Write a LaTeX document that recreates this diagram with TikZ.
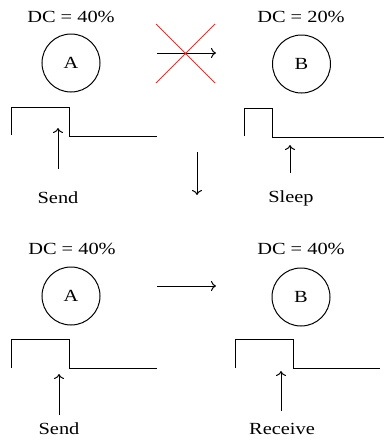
\documentclass[tikz,border=0pt]{standalone}
\usepackage{fontspec}
\setmainfont{Liberation Serif}[FakeStretch=1.2]
\usetikzlibrary{arrows.meta}
\begin{document}
\begin{tikzpicture}[x=1pt,y=-1pt,
  lw/.style={line width=1pt},
  txt/.style={font=\fontsize{17}{20}\selectfont, inner sep=0pt},
  circ/.style={circle, draw, lw, minimum size=58pt, inner sep=0pt, font=\fontsize{17}{20}\selectfont},
  arr/.style={lw, -{To[length=5pt,width=10pt]}},
  pulse/.style={lw}
]
\useasboundingbox (0,0) rectangle (384,442);
% top left
\node[txt] (dcA1) at (71,17) {DC = 40\%};
\node[circ] (A1) at (71,63) {A};
\coordinate (pA1s) at (11,135);
\coordinate (pA1e) at (157,136);
\draw[pulse] (pA1s) -- (11,107) -- (69,107) -- (69,136) -- (pA1e);
\node[txt] (send1) at (58,198) {Send};
\coordinate (aA1) at (58,128);
\draw[arr] (58,169) -- (aA1);
% top right
\node[txt] (dcB1) at (301,17) {DC = 20\%};
\node[circ] (B1) at (301.5,64) {B};
\coordinate (pB1s) at (244,136);
\coordinate (pB1e) at (384,137);
\draw[pulse] (pB1s) -- (244,108) -- (272,108) -- (272,137) -- (pB1e);
\node[txt] (sleep) at (291,198) {Sleep};
\coordinate (aB1) at (290,145);
\draw[arr] (290,173) -- (aB1);
% blocked arrow
\coordinate (m1s) at (157,53);
\coordinate (m1e) at (216,53);
\draw[arr] (m1s) -- (m1e);
\draw[red!85!white, line width=0.8pt] (156,24) -- (215,83) (156,83) -- (215,24);
% down arrow
\coordinate (d1) at (197,152);
\coordinate (d2) at (197,195);
\draw[arr] (d1) -- (d2);
% bottom left
\node[txt] (dcA2) at (72,249) {DC = 40\%};
\node[circ] (A2) at (71,296) {A};
\coordinate (pA2s) at (11,368);
\coordinate (pA2e) at (157,368);
\draw[pulse] (pA2s) -- (11,339) -- (69,339) -- (69,368) -- (pA2e);
\node[txt] (send2) at (59,429) {Send};
\coordinate (aA2) at (59,374);
\draw[arr] (59,415) -- (aA2);
% bottom right
\node[txt] (dcB2) at (301,249) {DC = 40\%};
\node[circ] (B2) at (301,297) {B};
\coordinate (pB2s) at (235,368);
\coordinate (pB2e) at (380,368);
\draw[pulse] (pB2s) -- (235,339) -- (293,339) -- (293,368) -- (pB2e);
\node[txt] (recv) at (282,429) {Receive};
\coordinate (aB2) at (281,371);
\draw[arr] (281,411) -- (aB2);
% middle arrow
\coordinate (m2s) at (157,286);
\coordinate (m2e) at (216,286);
\draw[arr] (m2s) -- (m2e);
\end{tikzpicture}
\end{document}
